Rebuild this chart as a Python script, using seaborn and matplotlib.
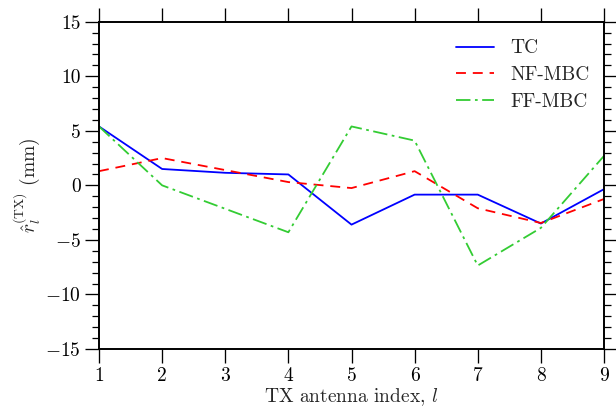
import numpy as np
import pandas as pd
import matplotlib
matplotlib.use("Agg")
import matplotlib.pyplot as plt
import seaborn as sns
from matplotlib.ticker import MultipleLocator

idx = [1, 2, 3, 4, 5, 6, 7, 8, 9]
tc = [5.4, 1.5, 1.15, 1.0, -3.6, -0.85, -0.85, -3.5, -0.35]
nf_mbc = [1.3, 2.5, 1.4, 0.3, -0.25, 1.3, -2.1, -3.45, -1.25]
ff_mbc = [5.4, 0.0, -2.15, -4.3, 5.4, 4.1, -7.35, -3.9, 2.7]
series_names = ["TC", "NF-MBC", "FF-MBC"]
series_colors = ["#0000ff", "#ff0000", "#33cc33"]
xticks = [1, 2, 3, 4, 5, 6, 7, 8, 9]
yticks = [-15, -10, -5, 0, 5, 10, 15]

df = pd.concat([
    pd.DataFrame({"l": idx, "v": vals, "s": name})
    for name, vals in zip(series_names, [tc, nf_mbc, ff_mbc])
])

sns.set_style("ticks")
plt.rcParams.update({
    "font.family": ["cmr10"],
    "mathtext.fontset": "cm",
    "axes.formatter.use_mathtext": True,
    "font.size": 14,
    "axes.linewidth": 1.4,
    "xtick.direction": "out",
    "ytick.direction": "out",
    "xtick.major.size": 10,
    "ytick.major.size": 10,
    "xtick.minor.size": 5.2,
    "ytick.minor.size": 5.2,
    "xtick.major.width": 0.95,
    "ytick.major.width": 0.95,
    "ytick.minor.width": 0.9,
    "xtick.color": "black",
    "ytick.color": "black",
    "axes.edgecolor": "black",
})

fig = plt.figure(figsize=(6.16, 4.16), dpi=100)
ax = fig.add_axes([99/616, 1 - 349/416, (604-99)/616, (349-21.7)/416])

sns.lineplot(data=df, x="l", y="v", hue="s", style="s",
             palette=dict(zip(series_names, series_colors)),
             dashes={"TC": "", "NF-MBC": (5.5, 3.8), "FF-MBC": (8, 2.5, 1.5, 2.5)},
             linewidth=1.3, ax=ax)

ax.set_xlim(1, 9)
ax.set_ylim(-15, 15)
ax.set_xticks(xticks)
ax.set_yticks(yticks)
ax.set_xticklabels([str(t) for t in xticks])
ax.set_yticklabels([r"$%d$" % t if t < 0 else str(t) for t in yticks])
ax.yaxis.set_minor_locator(MultipleLocator(1))
ax.tick_params(axis="both", which="both", top=True, right=True, labelsize=14, pad=3)
ax.tick_params(axis="x", which="minor", top=False, bottom=False)
for lab in ax.get_yticklabels():
    lab.set_fontsize(14)

ax.set_xlabel(r"TX antenna index, $l$", fontsize=14, labelpad=1)
ax.set_ylabel(r"$\hat{r}_l^{(\mathrm{TX})}$ (mm)", fontsize=14, labelpad=2)

leg = ax.legend(loc="upper left", frameon=False, fontsize=14,
                handlelength=1.95, handletextpad=0.82, labelspacing=0.45,
                bbox_to_anchor=(0.673, 0.999))

fig.savefig("out.png", dpi=100)
